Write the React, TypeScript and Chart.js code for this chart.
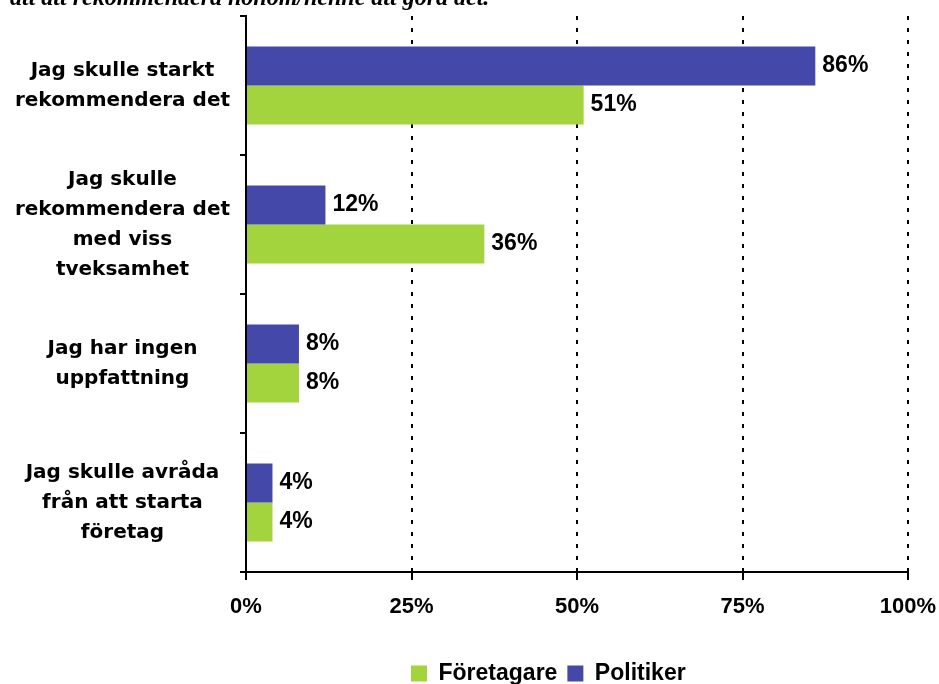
import React, { useEffect, useRef } from "react";
import { Chart, registerables } from "chart.js";

Chart.register(...registerables);

const titleText = "att att rekommendera honom/henne att göra det.";
const categories: string[][] = [
  ["Jag skulle starkt", "rekommendera det"],
  ["Jag skulle", "rekommendera det", "med viss", "tveksamhet"],
  ["Jag har ingen", "uppfattning"],
  ["Jag skulle avråda", "från att starta", "företag"],
];
const seriesNames = ["Politiker", "Företagare"];
const politiker = [86, 12, 8, 4];
const foretagare = [51, 36, 8, 4];
const xTicks = [0, 25, 50, 75, 100];

const BLUE = "#4448A8";
const GREEN = "#A3D33D";

const CANVAS_W = 939;
const CANVAS_H = 715;
const TOP_SHIFT = -20;

const valueLabels = {
  id: "valueLabels",
  afterDatasetsDraw(chart: any) {
    const ctx = chart.ctx;
    ctx.save();
    ctx.font = 'bold 23px "Liberation Sans", Arial, sans-serif';
    ctx.fillStyle = "#000";
    ctx.textBaseline = "middle";
    ctx.textAlign = "left";
    chart.data.datasets.forEach((ds: any, i: number) => {
      chart.getDatasetMeta(i).data.forEach((bar: any, j: number) => {
        ctx.fillText(ds.data[j] + "%", bar.x + 7, bar.y);
      });
    });
    ctx.restore();
  },
};

const legendShift = {
  id: "legendShift",
  afterLayout(chart: any) {
    const lg = chart.legend;
    if (lg) {
      const w = lg.right - lg.left;
      lg.left = 401;
      lg.right = lg.left + w;
    }
  },
};

export default function App() {
  const ref = useRef<HTMLCanvasElement | null>(null);
  useEffect(() => {
    if (!ref.current) return;
    const chart = new Chart(ref.current, {
      type: "bar",
      data: {
        labels: categories,
        datasets: [
          {
            label: seriesNames[0],
            data: politiker,
            backgroundColor: BLUE,
            borderWidth: 0,
            categoryPercentage: 0.56,
            barPercentage: 1.0,
          },
          {
            label: seriesNames[1],
            data: foretagare,
            backgroundColor: GREEN,
            borderWidth: 0,
            categoryPercentage: 0.56,
            barPercentage: 1.0,
          },
        ],
      },
      options: {
        indexAxis: "y",
        responsive: false,
        animation: false,
        devicePixelRatio: 1,
        layout: { padding: { left: 10, right: 31, top: 0, bottom: 0 } },
        scales: {
          x: {
            min: 0,
            max: 100,
            afterBuildTicks(scale: any) {
              scale.ticks = xTicks.map((v) => ({ value: v }));
            },
            afterFit(scale: any) {
              scale.height = 80;
              scale.paddingLeft = 0;
              scale.paddingRight = 0;
            },
            ticks: {
              callback: (v: any) => v + "%",
              color: "#000",
              padding: 14,
              maxRotation: 0,
              font: { family: '"Liberation Sans", Arial, sans-serif', size: 22, weight: "bold" },
            },
            grid: {
              color: "#000",
              lineWidth: 2,
              tickLength: 8,
              tickColor: "#000",
              tickWidth: 2,
              tickBorderDash: [],
            },
            border: { color: "#000", width: 2, dash: [4, 8] },
          },
          y: {
            afterFit(scale: any) {
              scale.width = 236;
              scale.paddingTop = 0;
              scale.paddingBottom = 0;
            },
            ticks: {
              color: "#000",
              padding: 10,
              crossAlign: "center",
              font: { family: '"DejaVu Sans", sans-serif', size: 20, weight: "bold", lineHeight: 1.5 },
            },
            grid: {
              drawOnChartArea: false,
              color: "#000",
              lineWidth: 2,
              tickLength: 6,
            },
            border: { color: "#000", width: 2 },
          },
        },
        plugins: {
          title: {
            display: true,
            text: titleText,
            align: "start",
            color: "#000",
            padding: { top: 4.5, bottom: 2.7 },
            font: { family: '"Liberation Serif", "Times New Roman", serif', size: 24, weight: "bold", style: "italic", lineHeight: 1.2 },
          },
          legend: {
            display: true,
            position: "bottom",
            align: "start",
            reverse: true,
            labels: {
              color: "#000",
              boxWidth: 16,
              boxHeight: 16,
              padding: 10,
              font: { family: '"Liberation Sans", Arial, sans-serif', size: 23, weight: "bold" },
            },
          },
          tooltip: { enabled: false },
        },
      },
      plugins: [valueLabels, legendShift],
    });
    return () => chart.destroy();
  }, []);

  return (
    <div
      style={{
        position: "fixed",
        left: 0,
        top: TOP_SHIFT,
        width: CANVAS_W,
        height: CANVAS_H,
        background: "#fff",
      }}
    >
      <canvas ref={ref} width={CANVAS_W} height={CANVAS_H} style={{ display: "block" }} />
    </div>
  );
}
